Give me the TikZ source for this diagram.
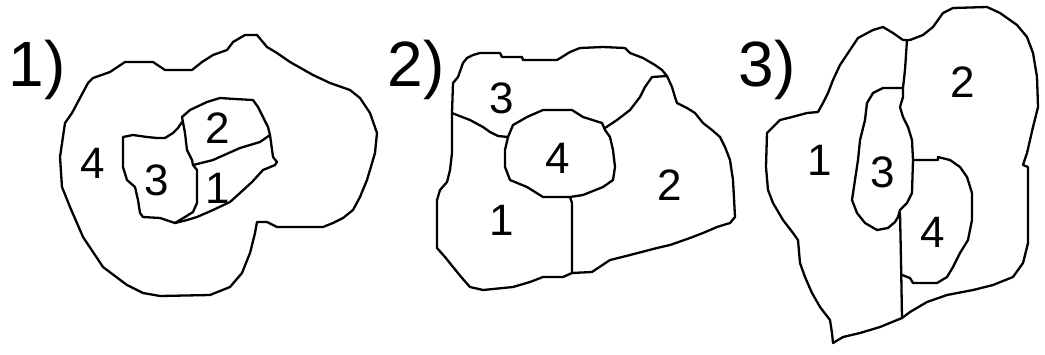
\documentclass[tikz,border=0pt]{standalone}
\usepackage{fontspec}
\setmainfont{Liberation Sans}
\begin{document}
\begin{tikzpicture}[x=1pt,y=-1pt,
  border/.style={line width=2.3pt,line join=round,line cap=round},
  big/.style={font=\fontsize{64}{64}\selectfont,inner sep=0pt},
  num/.style={font=\fontsize{44}{44}\selectfont,inner sep=0pt}]
\useasboundingbox (0,0) rectangle (1045,354);
% ---------- Panel 1 ----------
\draw[border] (60,157) -- (65,123) -- (72,113) -- (88,83) -- (93,78) -- (110,72) -- (125,62) -- (153,62) -- (165,70) -- (192,70) -- (202,62) -- (213,55) -- (227,50) -- (233,42) -- (245,35) -- (257,35) -- (267,47) -- (277,53) -- (290,62) -- (313,75) -- (330,83) -- (350,90) -- (360,98) -- (370,113) -- (377,133) -- (375,153) -- (367,180) -- (360,197) -- (353,210) -- (343,218) -- (333,223) -- (323,227) -- (277,227) -- (267,222) -- (257,222) -- (255,233) -- (250,253) -- (242,273) -- (230,287) -- (210,295) -- (160,296) -- (143,293) -- (127,285) -- (103,267) -- (83,237) -- (70,207) -- (62,187) -- cycle;
% region 2
\draw[border] (182,117) -- (190,110) -- (207,102) -- (220,98) -- (235,99) -- (253,100) -- (258,107) -- (263,117) -- (268,127) -- (270,135);
\draw[border] (182,117) -- (185,133) -- (187,150) -- (192,160) -- (193,165);
\draw[border] (193,165) -- (213,160) -- (240,148) -- (260,142) -- (270,135);
% region 1
\draw[border] (270,135) -- (273,157) -- (277,162) -- (275,165) -- (263,170) -- (252,182) -- (240,193) -- (230,202) -- (213,210) -- (197,217) -- (187,220) -- (175,223);
\draw[border] (193,165) -- (197,170) -- (197,203) -- (193,212) -- (185,217) -- (175,223);
% region 3
\draw[border] (182,122) -- (178,128) -- (173,133) -- (165,138) -- (157,138) -- (147,137) -- (133,135) -- (123,137) -- (123,167) -- (127,180) -- (135,187) -- (138,200) -- (140,213) -- (143,217) -- (160,218) -- (175,223);
\node[big] (t1) at (37,70) {1)};
\node[num] (p1r4) at (93,163) {4};
\node[num] (p1r3) at (157,180) {3};
\node[num] (p1r2) at (218,128) {2};
\node[num] (p1r1) at (218,188) {1};
% ---------- Panel 2 ----------
\draw[border] (467,58) -- (473,55) -- (480,53) -- (500,53) -- (502,57) -- (522,57) -- (523,60) -- (557,60) -- (562,57) -- (570,52) -- (580,48) -- (603,47) -- (625,48) -- (630,53) -- (643,58) -- (655,65) -- (662,70) -- (667,76) -- (672,87) -- (675,97) -- (677,103) -- (687,108) -- (695,113) -- (703,123) -- (712,130) -- (720,137) -- (725,147) -- (730,160) -- (733,180) -- (735,217) -- (730,223) -- (717,227) -- (703,233) -- (690,238) -- (670,245) -- (657,248) -- (630,255) -- (610,260) -- (592,272) -- (572,273) -- (563,277) -- (543,277) -- (530,282) -- (513,287) -- (483,290) -- (470,287) -- (462,278) -- (453,267) -- (445,257) -- (437,248) -- (437,200) -- (440,190) -- (447,182) -- (450,170) -- (452,153) -- (452,113) -- (453,83) -- (458,77) -- (463,63) -- cycle;
\draw[border] (452,113) -- (457,115) -- (470,120) -- (483,127) -- (490,132) -- (498,136) -- (508,137);
\draw[border] (508,137) -- (513,125) -- (527,117) -- (543,110) -- (572,110) -- (583,117) -- (602,123) -- (605,130) -- (610,137) -- (613,150) -- (615,167) -- (613,180) -- (603,187) -- (583,195) -- (570,197) -- (543,197) -- (527,187) -- (510,180) -- (505,167) -- (505,150) -- cycle;
\draw[border] (605,128) -- (617,120) -- (630,110) -- (640,97) -- (645,87) -- (652,77) -- (667,76);
\draw[border] (570,197) -- (572,203) -- (572,273);
\node[big] (t2) at (416,70) {2)};
\node[num] (p2r3) at (502,98) {3};
\node[num] (p2r4) at (558,158) {4};
\node[num] (p2r1) at (502,220) {1};
\node[num] (p2r2) at (670,185) {2};
% ---------- Panel 3 ----------
\draw[border] (767,133) -- (773,127) -- (780,120) -- (792,117) -- (807,113) -- (818,112) -- (823,103) -- (828,93) -- (833,80) -- (840,65) -- (850,50) -- (858,38) -- (873,30) -- (883,27) -- (893,33) -- (903,40) -- (910,40) -- (923,35) -- (933,27) -- (943,13) -- (953,8) -- (987,7) -- (1000,13) -- (1017,25) -- (1027,37) -- (1033,53) -- (1037,77) -- (1038,107) -- (1033,127) -- (1027,153) -- (1023,165) -- (1028,167) -- (1028,243) -- (1023,263) -- (1013,277) -- (993,285) -- (973,290) -- (947,295) -- (927,302) -- (910,312) -- (902,318) -- (880,327) -- (860,333) -- (843,337) -- (833,343) -- (832,333) -- (830,320) -- (820,307) -- (812,293) -- (805,277) -- (800,263) -- (798,240) -- (793,233) -- (783,220) -- (773,203) -- (768,190) -- (766,167) -- cycle;
\draw[border] (907,40) -- (905,70) -- (903,88);
\draw[border] (903,88) -- (897,88) -- (883,88) -- (873,93) -- (867,103) -- (865,120) -- (860,140) -- (858,160) -- (855,180) -- (852,200) -- (857,213) -- (865,223) -- (877,230) -- (888,228) -- (895,222) -- (898,217) -- (900,210) -- (907,203) -- (912,193) -- (913,160) -- (912,140) -- (908,127) -- (903,117) -- (900,107) -- (903,97) -- cycle;
\draw[border] (913,160) -- (938,160) -- (938,157) -- (950,160) -- (960,167) -- (967,177) -- (972,193) -- (972,220) -- (968,240) -- (960,253) -- (953,267) -- (947,277) -- (937,283) -- (913,283) -- (910,278) -- (902,275);
\draw[border] (900,213) -- (901,260) -- (902,318);
\node[big] (t3) at (767,70) {3)};
\node[num] (p3r1) at (820,160) {1};
\node[num] (p3r3) at (883,172) {3};
\node[num] (p3r2) at (963,82) {2};
\node[num] (p3r4) at (933,232) {4};
\end{tikzpicture}
\end{document}
